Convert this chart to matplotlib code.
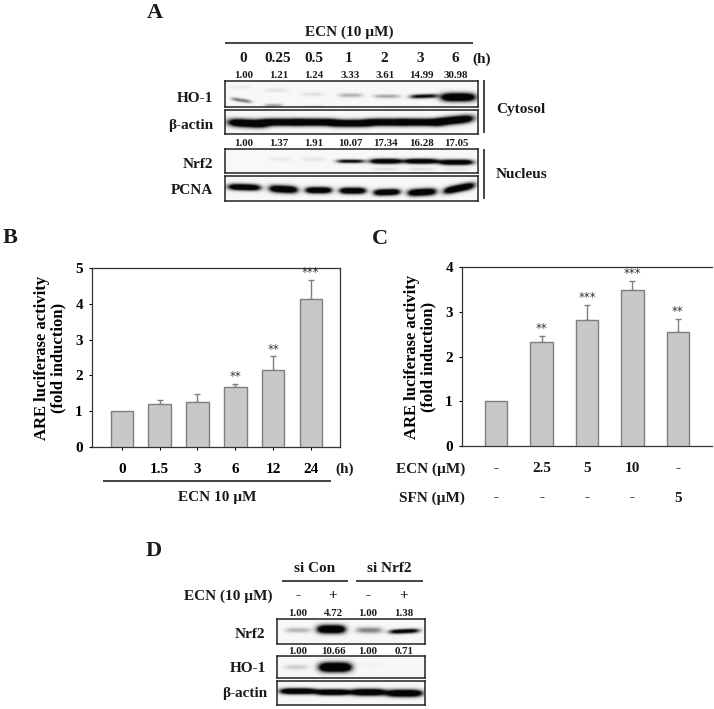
import numpy as np
import matplotlib
matplotlib.use('Agg')
import matplotlib.pyplot as plt

plt.rcParams['font.family'] = ['Liberation Serif', 'DejaVu Serif']
plt.rcParams['font.weight'] = 'bold'
plt.rcParams['axes.labelweight'] = 'bold'

W, H = 714, 709

# panel B
b_labels = ['0', '1.5', '3', '6', '12', '24']
b_values = [1.0, 1.2, 1.26, 1.67, 2.15, 4.14]
b_errors = [0, 0.1, 0.22, 0.09, 0.38, 0.53]
b_stars = ['', '', '', '**', '**', '***']

# panel C
c_ecn = ['-', '2.5', '5', '10', '-']
c_sfn = ['-', '-', '-', '-', '5']
c_values = [1.0, 2.33, 2.82, 3.48, 2.55]
c_errors = [0, 0.12, 0.33, 0.2, 0.28]
c_stars = ['', '**', '***', '***', '**']

# panel A
a_times = ['0', '0.25', '0.5', '1', '2', '3', '6']
a_ho1 = ['1.00', '1.21', '1.24', '3.33', '3.61', '14.99', '30.98']
a_nrf2 = ['1.00', '1.37', '1.91', '10.07', '17.34', '16.28', '17.05']
a_lanes = [244, 279, 314, 350, 385, 421, 456]

# panel D
d_ecn = ['-', '+', '-', '+']
d_nrf2 = ['1.00', '4.72', '1.00', '1.38']
d_ho1 = ['1.00', '10.66', '1.00', '0.71']
d_lanes = [298, 333, 368, 404]

# blot bands: x centre, y centre, half width, half height, darkness, tilt
ho1_bands = [(241, 100, 10, 1.8, 0.55, 0.15), (273, 105, 9, 1.5, 0.35, 0), (313, 106, 11, 1, 0.12, 0),
             (240, 87, 10, 1.5, 0.06, 0), (276, 90, 11, 2, 0.09, 0), (312, 94, 11, 2, 0.1, 0),
             (350, 95, 12, 2, 0.3, 0), (386, 96, 13, 1.8, 0.35, 0), (423, 96, 14, 2, 1.1, -0.03),
             (457, 97, 17, 4, 1.8, 0)]
a_actin_bands = [(247, 123, 19, 3.8, 1.8, 0.05), (280, 122, 20, 3.4, 1.8, 0), (315, 122, 20, 3.4, 1.8, 0),
                 (350, 123, 20, 3.4, 1.8, 0), (385, 122, 20, 3.4, 1.8, 0), (420, 122, 20, 3.4, 1.8, 0),
                 (453, 120, 19, 3.8, 1.8, -0.1)]
a_nrf2_bands = [(280, 159, 11, 2, 0.06, 0), (313, 159, 11, 2, 0.08, 0), (350, 161, 14, 1.8, 1.1, 0),
                (385, 161, 16, 2.4, 1.6, 0), (420, 161, 17, 2.4, 1.6, 0), (455, 162, 17, 2.6, 1.6, 0),
                (385, 169, 13, 1.5, 0.1, 0), (420, 169, 13, 1.5, 0.1, 0), (455, 169, 13, 1.5, 0.08, 0)]
pcna_bands = [(244, 187, 16, 3, 1.7, 0.03), (283, 189, 14, 3.5, 1.7, 0.05), (318, 190, 13, 3, 1.7, 0),
              (352, 190.5, 13, 3, 1.7, 0), (386, 192, 13, 3, 1.7, -0.03), (421, 192, 14, 3.4, 1.7, -0.05),
              (458, 188, 15, 3.4, 1.8, -0.2)]
d_nrf2_bands = [(298, 630, 13, 2.5, 0.28, 0), (331, 629, 14, 4, 1.8, 0), (369, 630, 13, 3, 0.5, 0),
                (404, 631, 15, 2.2, 1.3, -0.04)]
d_ho1_bands = [(296, 667, 12, 2.5, 0.18, 0), (335, 667, 16, 4.5, 2.0, 0), (372, 665, 10, 2, 0.03, 0)]
d_actin_bands = [(298, 691, 18, 2.8, 1.8, 0), (333, 692, 17, 2.8, 1.8, 0), (368, 692, 17, 3.2, 1.8, 0),
                 (404, 693, 18, 3.4, 1.8, 0)]

bar_fill = '#c8c8c8'
bar_edge = '#7f7f7f'
ink = '#1a1a1a'


def px_axes(x0, y0, x1, y1):
    return fig.add_axes([x0 / W, 1 - y1 / H, (x1 - x0) / W, (y1 - y0) / H])


def draw_blot(x0, y0, x1, y1, bands):
    ax = px_axes(x0, y0, x1, y1)
    xx, yy = np.meshgrid(np.arange(x0, x1, 0.5), np.arange(y0, y1, 0.5))
    dark = np.zeros_like(xx)
    for xc, yc, w, h, d, tilt in bands:
        yc2 = yc + tilt * (xx - xc)
        dark += d * np.exp(-((xx - xc) / w) ** 4 - ((yy - yc2) / h) ** 2)
    img = 0.97 - 0.95 * np.clip(dark, 0, 1)
    ax.imshow(img, cmap='gray', vmin=0, vmax=1, extent=(x0, x1, y1, y0), aspect='auto',
              interpolation='bilinear')
    ax.set_xticks([])
    ax.set_yticks([])
    for s in ax.spines.values():
        s.set_linewidth(1.1)
        s.set_color('#222222')


def draw_bars(ax, values, errors, stars, star_gap, width):
    x = np.arange(len(values))
    ax.bar(x, values, width=width, color=bar_fill, edgecolor=bar_edge, linewidth=1.0, zorder=3)
    for i in x:
        if errors[i] > 0:
            ax.errorbar(i, values[i], yerr=[[0], [errors[i]]], color=bar_edge, capsize=2,
                        elinewidth=1, capthick=1, zorder=2)
        if stars[i]:
            ax.text(i, values[i] + errors[i] + star_gap, stars[i], ha='center', va='center',
                    fontsize=8.5, color='#333333', fontfamily='DejaVu Sans', fontweight='normal')
    for s in ax.spines.values():
        s.set_linewidth(0.9)
        s.set_color('#333333')
    ax.tick_params(axis='y', length=2.5, width=0.8, labelsize=11, pad=4)
    ax.tick_params(axis='x', length=2.5, width=0.8, labelsize=11)


fig = plt.figure(figsize=(W / 100, H / 100), dpi=100)

# overlay in pixel coordinates for labels and rules
ov = fig.add_axes([0, 0, 1, 1], zorder=5)
ov.set_xlim(0, W)
ov.set_ylim(H, 0)
ov.axis('off')


def t(x, y, s, size=11, ha='center'):
    ov.text(x, y + 1, s, fontsize=size, ha=ha, va='center', color=ink)


def rule(x0, y0, x1, y1, lw=1.1):
    ov.plot([x0, x1], [y0, y1], color='#111111', lw=lw, solid_capstyle='butt')


for letter, lx, ly in [('A', 155, 12), ('B', 10, 237), ('C', 380, 238), ('D', 154, 550)]:
    t(lx, ly, letter, size=16)

# panel A
t(349, 31, 'ECN (10 µM)')
rule(225, 43, 473, 43)
for x, s in zip([243, 278, 314, 349, 384, 420, 455], a_times):
    t(x, 58, s)
t(482, 58, '(h)')
for x, s in zip(a_lanes, a_ho1):
    t(x, 75, s, size=7.8)
for x, s in zip(a_lanes, a_nrf2):
    t(x, 142, s, size=7.8)
for y, s in [(97, 'HO-1'), (124, 'β-actin'), (164, 'Nrf2'), (189, 'PCNA')]:
    t(213, y, s, ha='right')
t(496, 109, 'Cytosol', ha='left')
t(496, 174, 'Nucleus', ha='left')
rule(484, 80, 484, 133)
rule(484, 149, 484, 199)
draw_blot(225, 81, 478, 107, ho1_bands)
draw_blot(225, 110, 478, 134, a_actin_bands)
draw_blot(225, 149, 478, 173, a_nrf2_bands)
draw_blot(225, 176, 478, 201, pcna_bands)

# panel B
ax_b = px_axes(92, 268, 340, 447)
draw_bars(ax_b, b_values, b_errors, b_stars, 0.2, 0.6)
ax_b.set_xlim(-0.79, 5.77)
ax_b.set_ylim(0, 5)
ax_b.set_yticks(range(6))
ax_b.set_xticks(range(len(b_labels)))
ax_b.set_xticklabels(b_labels)
ax_b.tick_params(axis='x', pad=9)
ax_b.set_ylabel('ARE luciferase activity\n(fold induction)', fontsize=12, labelpad=6, linespacing=1.1)
t(345, 468, '(h)')
rule(103, 481, 331, 481)
t(217, 496, 'ECN 10 µM')

# panel C
ax_c = px_axes(462, 267, 712, 446)
draw_bars(ax_c, c_values, c_errors, c_stars, 0.17, 0.5)
ax_c.set_xlim(-0.75, 4.75)
ax_c.set_ylim(0, 4)
ax_c.set_yticks(range(5))
ax_c.set_xticks([])
ax_c.spines['right'].set_visible(False)
ax_c.set_ylabel('ARE luciferase activity\n(fold induction)', fontsize=12, labelpad=6, linespacing=1.1)
for i, (e, s) in enumerate(zip(c_ecn, c_sfn)):
    px = 462 + (i + 0.75) / 5.5 * 250
    t(px, 468, e)
    t(px, 497, s)
t(465, 468, 'ECN (µM)', ha='right')
t(465, 497, 'SFN (µM)', ha='right')

# panel D
t(315, 568, 'si Con')
t(389, 568, 'si Nrf2')
rule(282, 581, 348, 581)
rule(356, 581, 423, 581)
t(273, 595, 'ECN (10 µM)', ha='right')
for x, s, a, b in zip(d_lanes, d_ecn, d_nrf2, d_ho1):
    t(x, 595, s)
    t(x, 613, a, size=7.8)
    t(x, 650, b, size=7.8)
t(265, 633, 'Nrf2', ha='right')
t(266, 668, 'HO-1', ha='right')
t(267, 693, 'β-actin', ha='right')
draw_blot(277, 619, 425, 644, d_nrf2_bands)
draw_blot(277, 656, 425, 678, d_ho1_bands)
draw_blot(277, 681, 425, 705, d_actin_bands)

fig.savefig('out.png', dpi=100)
